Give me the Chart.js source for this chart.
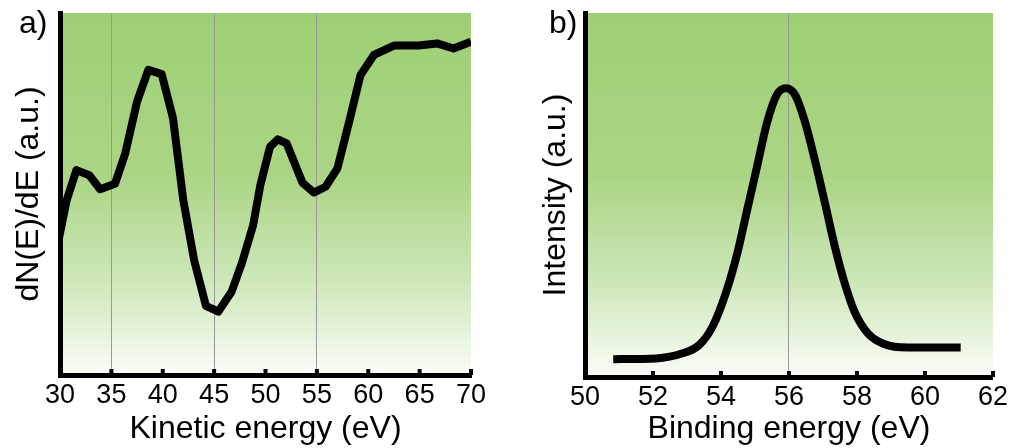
<!DOCTYPE html>
<html>
<head>
<meta charset="utf-8">
<script src="https://cdn.jsdelivr.net/npm/chart.js@4.4.1/dist/chart.umd.min.js"></script>
<style>
  body { margin: 0; background: #fff; width: 1012px; height: 448px; position: relative; overflow: hidden; }
  .panel { position: absolute; top: 0; width: 506px; height: 448px; }
  .tag { position: absolute; font: 32px "Liberation Sans", Arial, sans-serif; color: #000; }
</style>
</head>
<body>
<div class="panel" style="left:0"><canvas id="augerChart" width="506" height="448"></canvas></div>
<div class="panel" style="left:506px"><canvas id="xpsChart" width="506" height="448"></canvas></div>
<span class="tag" style="left:19px;top:4px">a)</span>
<span class="tag" style="left:549px;top:4px">b)</span>
<script>
// a) Auger spectrum, dN(E)/dE
const kineticEnergy = [29.9, 30.65, 31.6, 32.85, 33.9, 35.35, 36.35, 37.5, 38.6, 39.9, 41.0, 42.0, 43.05, 44.2, 45.4, 46.7, 47.7, 48.8, 49.5, 50.45, 51.2, 52.05, 53.6, 54.7, 55.85, 57.0, 58.1, 59.25, 60.55, 62.5, 64.9, 66.7, 68.3, 70.0];
const dNdE = [37.8, 48.3, 56.6, 55.2, 51.3, 52.8, 61.2, 75.5, 84.3, 83.1, 70.9, 48.3, 31.8, 19.1, 17.5, 23.0, 30.9, 41.4, 52.5, 63.1, 65.1, 64.0, 53.1, 50.4, 52.0, 57.1, 69.5, 82.9, 88.4, 91.0, 91.0, 91.6, 90.2, 92.1];
const kineticTicks = [30, 35, 40, 45, 50, 55, 60, 65, 70];
const kineticGrid = [35, 45, 55];

// b) XPS peak
const bindingEnergy = [50.83, 52.09, 52.87, 53.36, 53.75, 54.14, 54.48, 54.77, 55.06, 55.35, 55.64, 55.91, 56.18, 56.47, 56.76, 57.06, 57.35, 57.64, 57.93, 58.32, 58.81, 59.49, 61.05];
const intensity = [4.9, 5.1, 6.5, 8.8, 13.8, 23.0, 34.0, 45.9, 57.8, 69.7, 77.5, 79.3, 77.5, 70.1, 59.6, 47.7, 35.8, 25.7, 17.9, 12.0, 9.0, 8.1, 8.1];
const bindingTicks = [50, 52, 54, 56, 58, 60, 62];
const bindingGrid = [56];

const FONT = "'Liberation Sans', Arial, sans-serif";

const greenFill = {
  id: 'greenFill',
  beforeDraw(chart) {
    const { ctx, chartArea: a } = chart;
    const g = ctx.createLinearGradient(0, a.top, 0, a.bottom);
    g.addColorStop(0, '#9fcf74');
    g.addColorStop(0.45, '#abd585');
    g.addColorStop(0.75, '#cfe8bb');
    g.addColorStop(1, '#fbfdf9');
    ctx.save();
    ctx.fillStyle = g;
    ctx.fillRect(a.left, a.top, a.right - a.left, a.bottom - a.top);
    ctx.restore();
  }
};

// small tick marks sitting on the inside of the x axis
const innerTicks = {
  id: 'innerTicks',
  afterDraw(chart) {
    const { ctx } = chart;
    const x = chart.scales.x;
    ctx.save();
    ctx.strokeStyle = '#000';
    ctx.lineWidth = 4;
    x.ticks.forEach(t => {
      const px = x.getPixelForValue(t.value);
      ctx.beginPath();
      ctx.moveTo(px, x.top);
      ctx.lineTo(px, x.top - 6);
      ctx.stroke();
    });
    ctx.restore();
  }
};

function makeChart(id, xs, ys, opts) {
  return new Chart(document.getElementById(id), {
    type: 'line',
    data: {
      datasets: [{
        data: xs.map((x, i) => ({ x: x, y: ys[i] })),
        borderColor: '#000',
        borderWidth: 8,
        pointRadius: 0,
        tension: opts.tension,
        cubicInterpolationMode: opts.cubic ? 'monotone' : 'default',
        borderJoinStyle: 'round',
        fill: false
      }]
    },
    options: {
      responsive: false,
      animation: false,
      layout: { padding: opts.padding },
      plugins: { legend: { display: false }, tooltip: { enabled: false } },
      scales: {
        x: {
          type: 'linear',
          min: opts.ticks[0],
          max: opts.ticks[opts.ticks.length - 1],
          afterBuildTicks: s => { s.ticks = opts.ticks.map(v => ({ value: v })); },
          afterFit: s => { s.height = opts.xHeight; },
          border: { color: '#000', width: 5 },
          grid: {
            drawTicks: false,
            lineWidth: 1,
            color: c => opts.grid.includes(c.tick && c.tick.value) ? '#999999' : 'rgba(0,0,0,0)'
          },
          ticks: { color: '#000', padding: 4, maxRotation: 0, font: { family: FONT, size: 27 } },
          title: {
            display: true,
            text: opts.xTitle,
            color: '#000',
            padding: { top: 0, bottom: 0 },
            font: { family: FONT, size: 32 }
          }
        },
        y: {
          min: 0,
          max: 100,
          afterFit: s => { s.width = opts.yWidth; },
          border: { color: '#000', width: 5 },
          grid: { display: false },
          ticks: { display: false },
          title: {
            display: true,
            text: opts.yTitle,
            color: '#000',
            padding: 0,
            font: { family: FONT, size: 32 }
          }
        }
      }
    },
    plugins: [greenFill, innerTicks]
  });
}

makeChart('augerChart', kineticEnergy, dNdE, {
  tension: 0, cubic: false,
  ticks: kineticTicks, grid: kineticGrid,
  xTitle: 'Kinetic energy (eV)', yTitle: 'dN(E)/dE (a.u.)',
  padding: { left: 10, right: 35, top: 13, bottom: 0 },
  yWidth: 50, xHeight: 73
});

makeChart('xpsChart', bindingEnergy, intensity, {
  tension: 0.4, cubic: true,
  ticks: bindingTicks, grid: bindingGrid,
  xTitle: 'Binding energy (eV)', yTitle: 'Intensity (a.u.)',
  padding: { left: 31, right: 15, top: 13, bottom: 0 },
  yWidth: 48, xHeight: 71
});
</script>
</body>
</html>
